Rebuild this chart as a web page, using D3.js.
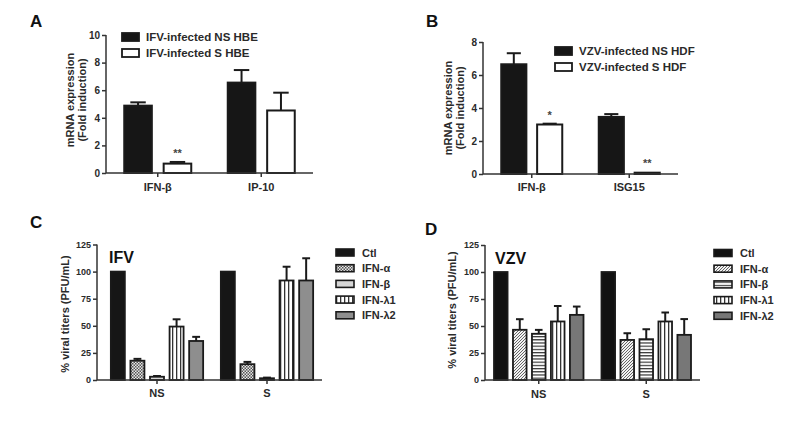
<!DOCTYPE html>
<html><head><meta charset="utf-8">
<script src="https://cdn.jsdelivr.net/npm/d3@7"></script>
<style>body{margin:0;background:#fff}svg{display:block;font-family:"Liberation Sans",Arial,sans-serif;font-weight:bold}</style>
</head><body><svg id="c" width="794" height="431"></svg>
<script>
// ---- Panel A data ----
const aCategories = ["IFN-β", "IP-10"];
const aSeries = ["IFV-infected NS HBE", "IFV-infected S HBE"];
const aMeanNS = [4.88, 6.55];
const aUpperNS = [5.12, 7.46];
const aMeanS = [0.68, 4.53];
const aUpperS = [0.80, 5.82];
const aStars = ["", ""];
const aStarsS = ["**", ""];
const aTicks = [0, 2, 4, 6, 8, 10];

// ---- Panel B data ----
const bCategories = ["IFN-β", "ISG15"];
const bSeries = ["VZV-infected NS HDF", "VZV-infected S HDF"];
const bMeanNS = [6.65, 3.46];
const bUpperNS = [7.32, 3.63];
const bMeanS = [3.0, 0.08];
const bUpperS = [3.05, 0.11];
const bStarsS = ["*", "**"];
const bTicks = [0, 2, 4, 6, 8];

// ---- Panel C / D data ----
const treatments = ["Ctl", "IFN-α", "IFN-β", "IFN-λ1", "IFN-λ2"];
const cellGroups = ["NS", "S"];
const titerTicks = [0, 25, 50, 75, 100, 125];
const cMeanNS = [100, 17.8, 3.0, 49.3, 36.0];
const cUpperNS = [100, 19.5, 3.7, 56.0, 39.8];
const cMeanS = [100, 14.6, 1.6, 91.8, 91.8];
const cUpperS = [100, 16.7, 2.2, 104.5, 112.3];
const dMeanNS = [100, 46.5, 42.8, 54.2, 60.3];
const dUpperNS = [100, 56.3, 46.4, 68.5, 68.0];
const dMeanS = [100, 37.1, 37.8, 54.2, 41.8];
const dUpperS = [100, 43.3, 47.0, 62.5, 56.4];

const svg = d3.select("#c");
const TXT = "#2a2a2a", AX = "#333";

// patterns
const defs = svg.append("defs");
function pat(id, w, h, build) {
  const p = defs.append("pattern").attr("id", id).attr("patternUnits", "userSpaceOnUse").attr("width", w).attr("height", h);
  build(p);
}
pat("checkC", 3, 3, p => {
  p.append("rect").attr("width", 3).attr("height", 3).attr("fill", "#e8e8e8");
  p.append("rect").attr("width", 1.5).attr("height", 1.5).attr("fill", "#555");
  p.append("rect").attr("x", 1.5).attr("y", 1.5).attr("width", 1.5).attr("height", 1.5).attr("fill", "#555");
});
pat("lightC", 4, 4, p => {
  p.append("rect").attr("width", 4).attr("height", 4).attr("fill", "#d6d6d6");
});
pat("vstripe", 4, 4, p => {
  p.append("rect").attr("width", 4).attr("height", 4).attr("fill", "#fff");
  p.append("rect").attr("x", 0).attr("width", 1.3).attr("height", 4).attr("fill", "#333");
});
pat("hstripe", 4, 3.2, p => {
  p.append("rect").attr("width", 4).attr("height", 3.2).attr("fill", "#fff");
  p.append("rect").attr("y", 0).attr("width", 4).attr("height", 1.2).attr("fill", "#333");
});
pat("diag", 3, 3, p => {
  p.append("rect").attr("width", 3).attr("height", 3).attr("fill", "#f2f2f2");
  p.append("path").attr("d", "M-1,1 L1,-1 M0,3 L3,0 M2,4 L4,2").attr("stroke", "#555").attr("stroke-width", 0.9);
});

const fillsC = ["#161616", "url(#checkC)", "url(#lightC)", "url(#vstripe)", "#8e8e8e"];
const fillsD = ["#111", "url(#diag)", "url(#hstripe)", "url(#vstripe)", "#777"];

function yAxis(g, y, ticks, x0, fs) {
  g.append("line").attr("x1", x0).attr("x2", x0).attr("y1", y(0)).attr("y2", y(ticks[ticks.length - 1]))
    .attr("stroke", AX).attr("stroke-width", 1.5);
  const ax = g.append("g").attr("transform", `translate(${x0},0)`)
    .call(d3.axisLeft(y).tickValues(ticks).tickSize(4).tickPadding(2).tickFormat(d3.format("d")));
  ax.select(".domain").remove();
  ax.selectAll("line").attr("stroke", AX).attr("stroke-width", 1.5);
  ax.selectAll("text").attr("fill", TXT).attr("font-size", fs).attr("font-family", "Liberation Sans, Arial").attr("font-weight", "bold");
}
function xAxis(g, x, cats, y0, xa0, xa1, labelY) {
  g.append("line").attr("x1", xa0).attr("x2", xa1).attr("y1", y0).attr("y2", y0).attr("stroke", AX).attr("stroke-width", 1.5);
  cats.forEach(c => {
    const cx = x(c) + x.bandwidth() / 2;
    g.append("line").attr("x1", cx).attr("x2", cx).attr("y1", y0).attr("y2", y0 + 4).attr("stroke", AX).attr("stroke-width", 1.5);
    g.append("text").attr("x", cx).attr("y", labelY).attr("text-anchor", "middle").attr("font-size", 11).attr("fill", TXT).text(c);
  });
}
function yTitle(g, lines, x, yc) {
  lines.forEach((l, i) => {
    g.append("text").attr("transform", `translate(${x + i * 12},${yc}) rotate(-90)`).attr("text-anchor", "middle")
      .attr("font-size", 11).attr("fill", TXT).text(l);
  });
}
function errBar(g, cx, yTop, yUp, bw, col) {
  if (yUp >= yTop - 0.5) return;
  const cw = bw * 0.28;
  g.append("line").attr("x1", cx).attr("x2", cx).attr("y1", yTop).attr("y2", yUp).attr("stroke", col).attr("stroke-width", 2);
  g.append("line").attr("x1", cx - cw).attr("x2", cx + cw).attr("y1", yUp).attr("y2", yUp).attr("stroke", col).attr("stroke-width", 2);
}

// ---------- Panel A / B ----------
function twoBar(cfg) {
  const g = svg.append("g");
  const y = d3.scaleLinear().domain([0, cfg.ticks[cfg.ticks.length - 1]]).range([cfg.y0, cfg.y1]);
  const x0 = d3.scaleBand().domain(cfg.cats).range([cfg.xa0, cfg.xa1]);
  const x1 = d3.scaleBand().domain(cfg.series).range([-cfg.gw / 2, cfg.gw / 2]).paddingInner(0.3);
  const bw = x1.bandwidth();
  const sets = [[cfg.ns, cfg.nsUp, "#161616", cfg.starsNS], [cfg.s, cfg.sUp, "#fff", cfg.starsS]];
  cfg.cats.forEach((c, i) => {
    const cx = x0(c) + x0.bandwidth() / 2;
    sets.forEach((s, j) => {
      const bx = cx + x1(cfg.series[j]);
      errBar(g, bx + bw / 2, y(s[0][i]), y(s[1][i]), bw, "#1a1a1a");
      g.append("rect").attr("x", bx).attr("y", y(s[0][i])).attr("width", bw).attr("height", y(0) - y(s[0][i]))
        .attr("fill", s[2]).attr("stroke", "#1a1a1a").attr("stroke-width", 2);
      if (s[3][i]) g.append("text").attr("x", bx + bw / 2).attr("y", y(s[1][i]) - 5).attr("text-anchor", "middle")
        .attr("font-size", 11).attr("fill", "#444").text(s[3][i]);
    });
  });
  yAxis(g, y, cfg.ticks, cfg.xa0, 10);
  xAxis(g, x0, cfg.cats, cfg.y0, cfg.xa0, cfg.xa1, cfg.labelY);
  yTitle(g, ["mRNA expression", "(Fold induction)"], cfg.titleX, cfg.titleY);
  cfg.series.forEach((s, j) => {
    const ly = cfg.legY + j * 16;
    g.append("rect").attr("x", cfg.legX).attr("y", ly - 4).attr("width", 17).attr("height", 8)
      .attr("fill", j === 0 ? "#161616" : "#fff").attr("stroke", "#1a1a1a").attr("stroke-width", 1.8);
    g.append("text").attr("x", cfg.legX + 24).attr("y", ly + 4).attr("font-size", 11.5).attr("fill", TXT).text(s);
  });
  g.append("text").attr("x", cfg.letterX).attr("y", cfg.letterY).attr("font-size", 17).attr("fill", "#111").text(cfg.letter);
}

twoBar({cats: aCategories, series: aSeries, ns: aMeanNS, nsUp: aUpperNS, s: aMeanS, sUp: aUpperS,
  starsNS: aStars, starsS: aStarsS, ticks: aTicks, y0: 173, y1: 35, xa0: 106, xa1: 313, gw: 67,
  labelY: 191, titleX: 74, titleY: 100, legX: 122, legY: 37, letter: "A", letterX: 30, letterY: 27});
twoBar({cats: bCategories, series: bSeries, ns: bMeanNS, nsUp: bUpperNS, s: bMeanS, sUp: bUpperS,
  starsNS: ["", ""], starsS: bStarsS, ticks: bTicks, y0: 174, y1: 42, xa0: 483, xa1: 678, gw: 61,
  labelY: 191, titleX: 452, titleY: 108, legX: 555, legY: 51, letter: "B", letterX: 426, letterY: 27});

// ---------- Panel C / D ----------
function fiveBar(cfg) {
  const g = svg.append("g");
  const y = d3.scaleLinear().domain([0, 125]).range([cfg.y0, cfg.y1]);
  const x0 = d3.scaleBand().domain(cellGroups).range([cfg.bx0, cfg.bx1]);
  const x1 = d3.scaleBand().domain(treatments).range([-cfg.gw / 2, cfg.gw / 2]).paddingInner(0.285);
  const bw = x1.bandwidth();
  const data = {NS: [cfg.ns, cfg.nsUp], S: [cfg.s, cfg.sUp]};
  cellGroups.forEach(c => {
    const cx = x0(c) + x0.bandwidth() / 2;
    treatments.forEach((t, i) => {
      const bx = cx + x1(t);
      const v = data[c][0][i], u = data[c][1][i];
      errBar(g, bx + bw / 2, y(v), y(u), bw, "#1a1a1a");
      g.append("rect").attr("x", bx).attr("y", y(v)).attr("width", bw).attr("height", y(0) - y(v))
        .attr("fill", cfg.fills[i]).attr("stroke", "#1a1a1a").attr("stroke-width", 1.8);
    });
  });
  yAxis(g, y, titerTicks, cfg.xa0, 9);
  xAxis(g, x0, cellGroups, cfg.y0, cfg.xa0, cfg.xa1, cfg.labelY);
  g.append("text").attr("transform", `translate(${cfg.titleX},${cfg.titleY}) rotate(-90)`).attr("text-anchor", "middle")
    .attr("font-size", 11).attr("fill", TXT).text("% viral titers (PFU/mL)");
  g.append("text").attr("x", cfg.virX).attr("y", cfg.virY).attr("font-size", 16).attr("fill", "#111").text(cfg.virus);
  treatments.forEach((t, i) => {
    const ly = cfg.legY + i * 15.7;
    g.append("rect").attr("x", cfg.legX).attr("y", ly - 3.5).attr("width", 18).attr("height", 7)
      .attr("fill", cfg.fills[i]).attr("stroke", "#1a1a1a").attr("stroke-width", 1.6);
    g.append("text").attr("x", cfg.legX + 26).attr("y", ly + 4).attr("font-size", 11).attr("fill", TXT).text(t);
  });
  g.append("text").attr("x", cfg.letterX).attr("y", cfg.letterY).attr("font-size", 17).attr("fill", "#111").text(cfg.letter);
}

fiveBar({ns: cMeanNS, nsUp: cUpperNS, s: cMeanS, sUp: cUpperS, fills: fillsC, y0: 380, y1: 244.5,
  xa0: 97, xa1: 322, bx0: 102, bx1: 322, gw: 92.3, labelY: 397, titleX: 69, titleY: 314,
  virus: "IFV", virX: 109, virY: 263, legX: 336, legY: 252.5, letter: "C", letterX: 30, letterY: 228});
fiveBar({ns: dMeanNS, nsUp: dUpperNS, s: dMeanS, sUp: dUpperS, fills: fillsD, y0: 380, y1: 245,
  xa0: 485, xa1: 700, bx0: 485, bx1: 700, gw: 89.5, labelY: 398, titleX: 456, titleY: 310,
  virus: "VZV", virX: 495, virY: 264, legX: 714, legY: 253, letter: "D", letterX: 425, letterY: 235});
</script></body></html>
